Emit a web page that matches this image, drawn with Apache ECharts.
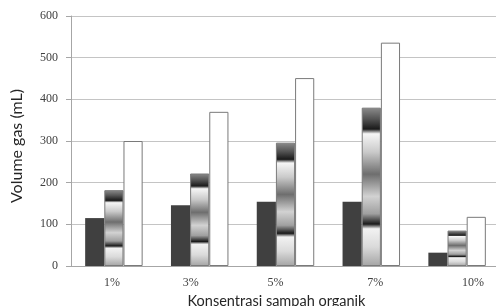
<!DOCTYPE html>
<html><head><meta charset="utf-8">
<script src="https://cdn.jsdelivr.net/npm/echarts@6/dist/echarts.min.js"></script>
<style>html,body{margin:0;padding:0;background:#fff}#c{width:496px;height:306px}</style>
</head><body><div id="c"></div>
<script>
const categories = ['1%', '3%', '5%', '7%', '10%'];
const seriesA = [115, 146, 154, 154, 32];
const seriesB = [182, 222, 296, 380, 85];
const seriesC = [300, 370, 451, 536, 118];
const yTicks = [0, 100, 200, 300, 400, 500, 600];

// label horizontal nudges (layout only)
const labelShift = [-2, -9, -10, 4, 16];

const chart = echarts.init(document.getElementById('c'), null, {renderer: 'canvas'});
const rich = {};
labelShift.forEach((d, i) => {
  rich['l' + i] = {
    fontFamily: 'Liberation Serif', fontSize: 12, color: '#404040',
    padding: d < 0 ? [0, -2 * d, 0, 0] : [0, 0, 0, 2 * d]
  };
});
const chrome = new echarts.graphic.LinearGradient(0, 0, 0, 1, [
  {offset: 0, color: '#8c8c8c'},
  {offset: 0.07, color: '#555555'},
  {offset: 0.135, color: '#1a1a1a'},
  {offset: 0.165, color: '#f6f6f6'},
  {offset: 0.28, color: '#cacaca'},
  {offset: 0.42, color: '#6e6e6e'},
  {offset: 0.56, color: '#d2d2d2'},
  {offset: 0.67, color: '#a0a0a0'},
  {offset: 0.735, color: '#1a1a1a'},
  {offset: 0.765, color: '#f2f2f2'},
  {offset: 0.88, color: '#dadada'},
  {offset: 1, color: '#a4a4a4'}
]);
chart.setOption({
  animation: false,
  backgroundColor: '#fff',
  grid: {left: 71, top: 16, width: 429, height: 250, containLabel: false, outerBoundsMode: 'none'},
  xAxis: {
    type: 'category', data: categories,
    axisLine: {lineStyle: {color: '#a6a6a6'}},
    axisTick: {show: false},
    axisLabel: {
      margin: 11,
      formatter: (v, i) => '{l' + i + '|' + v + '}',
      rich: rich
    },
    name: 'Konsentrasi sampah organik', nameLocation: 'middle', nameGap: 25,
    nameTextStyle: {fontFamily: 'Lato', fontSize: 14.5, color: '#262626', padding: [0, 18, 0, 0]}
  },
  yAxis: {
    type: 'value', min: yTicks[0], max: yTicks[yTicks.length - 1], interval: 100,
    axisLine: {show: true, lineStyle: {color: '#a6a6a6'}},
    axisTick: {show: true, length: 5, lineStyle: {color: '#a6a6a6'}},
    splitLine: {lineStyle: {color: '#c4c4c4'}},
    axisLabel: {margin: 13, fontFamily: 'Liberation Serif', fontSize: 12, color: '#404040'},
    name: 'Volume gas (mL)', nameLocation: 'middle', nameGap: 46,
    nameTextStyle: {fontFamily: 'Lato', fontSize: 16, color: '#262626', padding: [0, 10, 0, 0]}
  },
  series: [
    {type: 'bar', data: seriesA, barGap: '0%', barCategoryGap: '33%',
     itemStyle: {color: '#404040'}},
    {type: 'bar', data: seriesB, barGap: '0%', barCategoryGap: '33%',
     itemStyle: {color: chrome, borderColor: '#7a7a7a', borderWidth: 1}},
    {type: 'bar', data: seriesC, barGap: '0%', barCategoryGap: '33%',
     itemStyle: {color: '#ffffff', borderColor: '#7a7a7a', borderWidth: 1}}
  ]
});
</script></body></html>
